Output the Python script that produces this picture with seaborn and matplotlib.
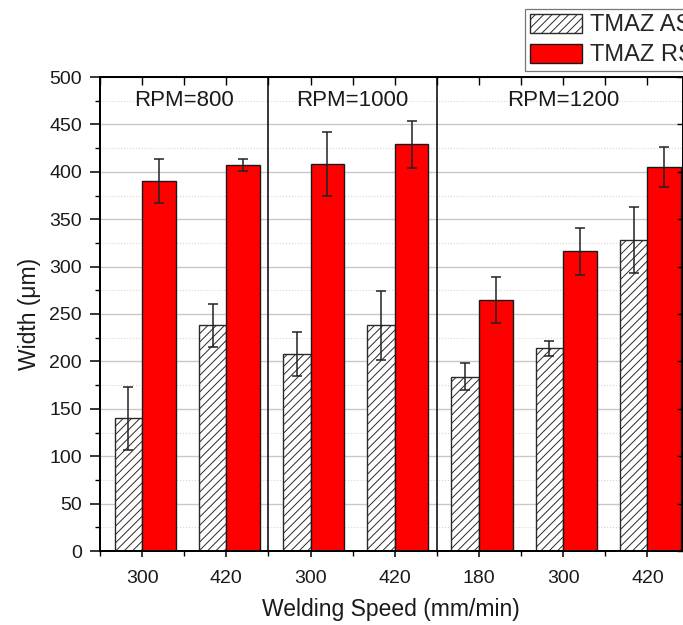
import numpy as np
import pandas as pd
import matplotlib
matplotlib.use("Agg")
import matplotlib.pyplot as plt
from matplotlib.patches import Patch
from matplotlib.ticker import MultipleLocator, FixedLocator, NullFormatter
import seaborn as sns

# Process parameters for each weld
rpm = [800, 800, 1000, 1000, 1200, 1200, 1200]
speed = [300, 420, 300, 420, 180, 300, 420]
rpm_labels = ["RPM=800", "RPM=1000", "RPM=1200"]

# TMAZ widths (µm) and their error half-widths
tmaz_as = [140, 238, 208, 238, 184, 214, 328]
tmaz_as_err = [33, 23, 23, 36, 14, 8, 35]
tmaz_rs = [390, 407, 408, 429, 265, 316, 405]
tmaz_rs_err = [23, 6, 34, 25, 24, 25, 21]
zones = ["TMAZ AS", "TMAZ RS"]

sns.set_theme(style="ticks")
plt.rcParams["font.family"] = ["Liberation Sans", "DejaVu Sans"]
plt.rcParams["hatch.linewidth"] = 0.7

cases = [f"{r}-{s}" for r, s in zip(rpm, speed)]
df = pd.DataFrame({
    "case": cases * 2,
    "width": tmaz_as + tmaz_rs,
    "zone": [zones[0]] * len(cases) + [zones[1]] * len(cases),
})

fig = plt.figure(figsize=(6.83, 6.25), dpi=100)
ax = fig.add_axes([100 / 683, 74 / 625, 582.5 / 683, 474 / 625])

sns.barplot(data=df, x="case", y="width", hue="zone", order=cases,
            hue_order=zones, palette=["white", "#ff0000"], saturation=1,
            width=0.8, dodge=True, errorbar=None, legend=False,
            edgecolor="#1a1a1a", linewidth=1.0, zorder=3, ax=ax)

as_bars, rs_bars = ax.containers[0], ax.containers[1]
as_w = 0.327
for p in as_bars:
    right_edge = p.get_x() + p.get_width()
    p.set_width(as_w)
    p.set_x(right_edge - as_w)
    p.set_hatch("////")
    p.set_edgecolor("#2a2a2a")

for bars, vals, err in ((as_bars, tmaz_as, tmaz_as_err),
                        (rs_bars, tmaz_rs, tmaz_rs_err)):
    xs = [p.get_x() + p.get_width() / 2 for p in bars]
    ax.errorbar(xs, vals, yerr=err, fmt="none", ecolor="#222222",
                elinewidth=1.1, capsize=3.6, capthick=1.1, zorder=4)

# axes limits and ticks
xmin, xmax = -0.5, 6.416
ax.set_xlim(xmin, xmax)
ax.set_ylim(0, 500)
ax.set_xticks(range(len(cases)))
ax.set_xticklabels([str(s) for s in speed], fontsize=14)
ax.xaxis.set_minor_locator(FixedLocator(np.arange(-0.5, 6.5, 1.0)))
ax.yaxis.set_major_locator(MultipleLocator(50))
ax.yaxis.set_minor_locator(MultipleLocator(25))
ax.tick_params(axis="y", which="major", direction="out", length=7, width=1.1,
               labelsize=14, pad=6, color="black", labelcolor="#1a1a1a",
               right=False)
ax.tick_params(axis="y", which="minor", direction="out", length=3.5, width=1.0,
               color="black", right=False)
ax.tick_params(axis="x", which="major", direction="out", length=4, width=1.1,
               labelsize=14, pad=10, color="black", labelcolor="#1a1a1a",
               top=False)
ax.tick_params(axis="x", which="minor", direction="out", length=3.5, width=1.0,
               color="black", top=False)

# inward ticks on the top and right frame
ax_top = ax.twiny()
ax_top.set_xlim(xmin, xmax)
ax_top.set_xticks(range(len(cases)))
ax_top.xaxis.set_minor_locator(FixedLocator(np.arange(-0.5, 6.5, 1.0)))
ax_top.xaxis.set_major_formatter(NullFormatter())
ax_top.tick_params(axis="x", which="both", direction="in", length=6, width=1.0,
                   color="black", top=True, bottom=False, labeltop=False)

ax_right = ax.twinx()
ax_right.set_ylim(0, 500)
ax_right.yaxis.set_major_locator(MultipleLocator(50))
ax_right.yaxis.set_major_formatter(NullFormatter())
ax_right.tick_params(axis="y", which="major", direction="in", length=4, width=1.0,
                     color="black", right=True, left=False, labelright=False)
ax_right.tick_params(axis="y", which="minor", length=0)

for a in (ax, ax_top, ax_right):
    for s in a.spines.values():
        s.set_visible(True)
        s.set_linewidth(1.2)
        s.set_color("black")

# horizontal grid
ax.set_axisbelow(True)
ax.grid(which="major", axis="y", color="#c8c8c8", lw=1.0, zorder=0)
ax.grid(which="minor", axis="y", color="#d6d6d6", lw=0.8, ls=":", zorder=0)
ax.grid(which="both", axis="x", visible=False)

# separators between spindle speeds
for xb in (1.5, 3.5):
    ax.axvline(xb, color="black", lw=1.1, zorder=2.5)

for label, xc in zip(rpm_labels, (0.5, 2.5, 5.0)):
    ax.text(xc, 0.951, label, transform=ax.get_xaxis_transform(),
            ha="center", va="center", fontsize=16, color="#1a1a1a")

ax.set_xlabel("Welding Speed (mm/min)", fontsize=16.5, color="#1a1a1a")
ax.set_ylabel("Width (μm)", fontsize=16.5, color="#1a1a1a")
ax.xaxis.set_label_coords(0.5, -0.1)
ax.yaxis.set_label_coords(-0.101, 0.5)

handles = [Patch(facecolor="white", edgecolor="#2a2a2a", hatch="////", lw=1.0),
           Patch(facecolor="#ff0000", edgecolor="#1a1a1a", lw=1.0)]
leg = fig.legend(handles, zones, loc="upper left",
                 bbox_to_anchor=(525 / 683, 1 - 9 / 625), borderaxespad=0,
                 fontsize=17, frameon=True, fancybox=False, handlelength=2.2,
                 handleheight=0.85, handletextpad=0.35, borderpad=0.2,
                 labelspacing=0.32)
leg.get_frame().set_edgecolor("#555555")
leg.get_frame().set_linewidth(0.9)

fig.savefig("out.png", dpi=100)
